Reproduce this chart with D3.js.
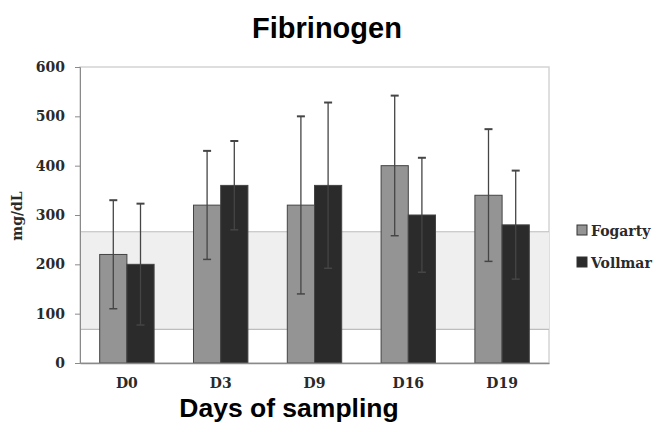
<!DOCTYPE html>
<html lang="en">
<head>
<meta charset="utf-8">
<title>Fibrinogen</title>
<script src="https://d3js.org/d3.v7.min.js"></script>
<style>
  body { margin: 0; background: #fff; }
  .tick text { font-family: "DejaVu Serif", serif; font-weight: bold; font-size: 14px; fill: #2a2a2a; }
  .title { font-family: "Liberation Sans", Arial, sans-serif; font-weight: bold; font-size: 29px; fill: #000; }
  .xtitle { font-family: "Liberation Sans", Arial, sans-serif; font-weight: bold; font-size: 26.5px; fill: #000; }
  .ylabel, .legend text { font-family: "DejaVu Serif", serif; font-weight: bold; font-size: 14px; fill: #2a2a2a; }
</style>
</head>
<body>
<script>
// data
var days = ["D0", "D3", "D9", "D16", "D19"];
var groups = ["Fogarty", "Vollmar"];
var fogarty = [220, 320, 320, 400, 340];
var vollmar = [200, 360, 360, 300, 280];
var fogartySd = [110, 110, 180, 142, 134];
var vollmarSd = [123, 90, 168, 116, 110];
var yTicks = [0, 100, 200, 300, 400, 500, 600];
var normalRange = [68, 266];

var w = 657, h = 432;
var plotL = 80, plotR = 549, plotT = 67, plotB = 363;

var colors = { Fogarty: "#949494", Vollmar: "#2b2b2b" };

var rows = days.map(function(d, i) {
  return {
    day: d,
    values: [
      { key: "Fogarty", v: fogarty[i], sd: fogartySd[i] },
      { key: "Vollmar", v: vollmar[i], sd: vollmarSd[i] }
    ]
  };
});

var svg = d3.select("body").append("svg")
  .attr("width", w)
  .attr("height", h);

var x0 = d3.scaleBand()
  .domain(days)
  .range([plotL, plotR])
  .paddingInner(0.42)
  .paddingOuter(0.21);

var x1 = d3.scaleBand()
  .domain(groups)
  .range([0, x0.bandwidth()]);

var y = d3.scaleLinear()
  .domain([0, 600])
  .range([plotB, plotT]);

// plot frame
svg.append("rect")
  .attr("x", plotL).attr("y", plotT)
  .attr("width", plotR - plotL).attr("height", plotB - plotT)
  .attr("fill", "#fff")
  .attr("stroke", "#d4d4d4")
  .attr("stroke-width", 1.5);

// normal range band
svg.append("rect")
  .attr("x", plotL).attr("y", y(normalRange[1]))
  .attr("width", plotR - plotL)
  .attr("height", y(normalRange[0]) - y(normalRange[1]))
  .attr("fill", "#efefef");

svg.selectAll(".rangeLine")
  .data(normalRange)
  .enter().append("line")
  .attr("class", "rangeLine")
  .attr("x1", plotL).attr("x2", plotR)
  .attr("y1", function(d) { return y(d); })
  .attr("y2", function(d) { return y(d); })
  .attr("stroke", "#bdbdbd")
  .attr("stroke-width", 1.2);

// bars
var g = svg.selectAll(".day")
  .data(rows)
  .enter().append("g")
  .attr("class", "day")
  .attr("transform", function(d) { return "translate(" + x0(d.day) + ",0)"; });

g.selectAll("rect")
  .data(function(d) { return d.values; })
  .enter().append("rect")
  .attr("x", function(d) { return x1(d.key); })
  .attr("y", function(d) { return y(d.v); })
  .attr("width", x1.bandwidth())
  .attr("height", function(d) { return y(0) - y(d.v); })
  .attr("fill", function(d) { return colors[d.key]; })
  .attr("stroke", "#444")
  .attr("stroke-width", 1);

// error bars
var err = g.selectAll(".err")
  .data(function(d) { return d.values; })
  .enter().append("g")
  .attr("class", "err")
  .attr("stroke", "#454545")
  .attr("stroke-width", 1.3);

var cx = function(d) { return x1(d.key) + x1.bandwidth() / 2; };

err.append("line")
  .attr("x1", cx).attr("x2", cx)
  .attr("y1", function(d) { return y(d.v + d.sd); })
  .attr("y2", function(d) { return y(d.v - d.sd); });

err.append("line")
  .attr("x1", function(d) { return cx(d) - 4; })
  .attr("x2", function(d) { return cx(d) + 4; })
  .attr("y1", function(d) { return y(d.v + d.sd); })
  .attr("y2", function(d) { return y(d.v + d.sd); })
  .attr("stroke-width", 2);

err.append("line")
  .attr("x1", function(d) { return cx(d) - 4; })
  .attr("x2", function(d) { return cx(d) + 4; })
  .attr("y1", function(d) { return y(d.v - d.sd); })
  .attr("y2", function(d) { return y(d.v - d.sd); })
  .attr("stroke-width", 1.5);

// axes
var yAxis = svg.append("g")
  .attr("transform", "translate(" + plotL + ",0)")
  .call(d3.axisLeft(y).tickValues(yTicks).tickSize(5).tickPadding(10));
yAxis.selectAll("line, path").attr("stroke", "#8a8a8a");

var xAxis = svg.append("g")
  .attr("transform", "translate(0," + plotB + ")")
  .call(d3.axisBottom(x0).tickSize(0).tickPadding(15));
xAxis.select(".domain").attr("stroke", "#8a8a8a").attr("stroke-width", 1.5);

// titles
svg.append("text")
  .attr("class", "title")
  .attr("x", 327).attr("y", 38)
  .attr("text-anchor", "middle")
  .text("Fibrinogen");

svg.append("text")
  .attr("class", "xtitle")
  .attr("x", 289).attr("y", 417)
  .attr("text-anchor", "middle")
  .text("Days of sampling");

svg.append("text")
  .attr("class", "ylabel")
  .attr("transform", "translate(22,216) rotate(-90)")
  .attr("text-anchor", "middle")
  .text("mg/dL");

// legend
var legend = svg.selectAll(".legend")
  .data(groups)
  .enter().append("g")
  .attr("class", "legend")
  .attr("transform", function(d, i) { return "translate(577," + (225 + i * 32) + ")"; });

legend.append("rect")
  .attr("width", 10).attr("height", 10)
  .attr("fill", function(d) { return colors[d]; })
  .attr("stroke", "#333");

legend.append("text")
  .attr("x", 14).attr("y", 11)
  .text(function(d) { return d; });
</script>
</body>
</html>
